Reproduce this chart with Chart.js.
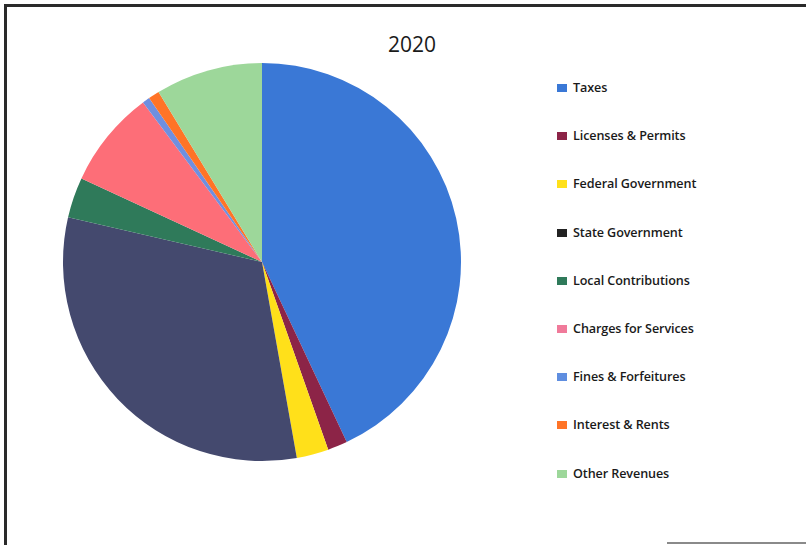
<!DOCTYPE html>
<html>
<head>
<meta charset="utf-8">
<script src="https://cdn.jsdelivr.net/npm/chart.js@4"></script>
<style>
  body { margin: 0; background: #fff; width: 806px; height: 545px; overflow: hidden; position: relative; font-family: "Open Sans", sans-serif; }
  #frameTop { position: absolute; left: 4px; top: 4px; width: 802px; height: 3px; background: #2a2a2a; }
  #frameLeft { position: absolute; left: 4px; top: 4px; width: 3px; height: 541px; background: #2a2a2a; }
  #frameBottom { position: absolute; left: 667px; top: 542px; width: 139px; height: 2px; background: #8a8a8a; }
  #title { position: absolute; left: 362px; top: 30px; width: 100px; text-align: center; font-size: 21px; font-weight: 500; color: #1a1a1a; }
  #pieBox { position: absolute; left: 62px; top: 62px; width: 400px; height: 400px; }
  #legend { position: absolute; left: 557px; top: 0; }
  .item { position: absolute; left: 0; white-space: nowrap; font-size: 12.6px; font-weight: 600; color: #1a1a1a; line-height: 16px; letter-spacing: -0.1px; }
  .swatch { display: inline-block; width: 10px; height: 8px; margin-right: 6px; vertical-align: 0px; }
</style>
</head>
<body>
<div id="frameTop"></div>
<div id="frameLeft"></div>
<div id="frameBottom"></div>
<div id="title">2020</div>
<div id="pieBox"><canvas id="pieChart"></canvas></div>
<div id="legend"></div>
<script>
const chartTitle = "2020";
const categories = [
  "Taxes",
  "Licenses & Permits",
  "Federal Government",
  "State Government",
  "Local Contributions",
  "Charges for Services",
  "Fines & Forfeitures",
  "Interest & Rents",
  "Other Revenues"
];
// share of total revenue, percent
const shares = [43.0, 1.6, 2.6, 31.4, 3.3, 7.9, 0.6, 0.9, 8.7];
const sliceColors = ["#3a78d6", "#8c2447", "#ffe01a", "#44496e", "#2f7a5a", "#fd6e78", "#6f8fe0", "#ff7427", "#9dd79a"];
const legendColors = ["#3a78d6", "#8c2447", "#ffe01a", "#222222", "#2f7a5a", "#f07a9a", "#5f8ee0", "#ff7427", "#9dd79a"];

function buildLegend() {
  const legendEl = document.getElementById("legend");
  categories.forEach((name, i) => {
    const item = document.createElement("div");
    item.className = "item";
    item.style.top = `${80 + i * 48.2}px`;
    const swatch = document.createElement("span");
    swatch.className = "swatch";
    swatch.style.background = legendColors[i];
    item.appendChild(swatch);
    item.appendChild(document.createTextNode(name));
    legendEl.appendChild(item);
  });
}

function renderPie() {
  document.getElementById("title").textContent = chartTitle;
  new Chart(document.getElementById("pieChart"), {
    type: "pie",
    data: {
      labels: categories,
      datasets: [
        {
          data: shares,
          backgroundColor: sliceColors,
          borderWidth: 0
        }
      ]
    },
    options: {
      responsive: false,
      animation: false,
      layout: { padding: 1 },
      plugins: {
        legend: { display: false },
        title: { display: false },
        tooltip: { enabled: false }
      }
    }
  });
}

const canvasEl = document.getElementById("pieChart");
canvasEl.width = 400;
canvasEl.height = 400;
buildLegend();
renderPie();
</script>
</body>
</html>
